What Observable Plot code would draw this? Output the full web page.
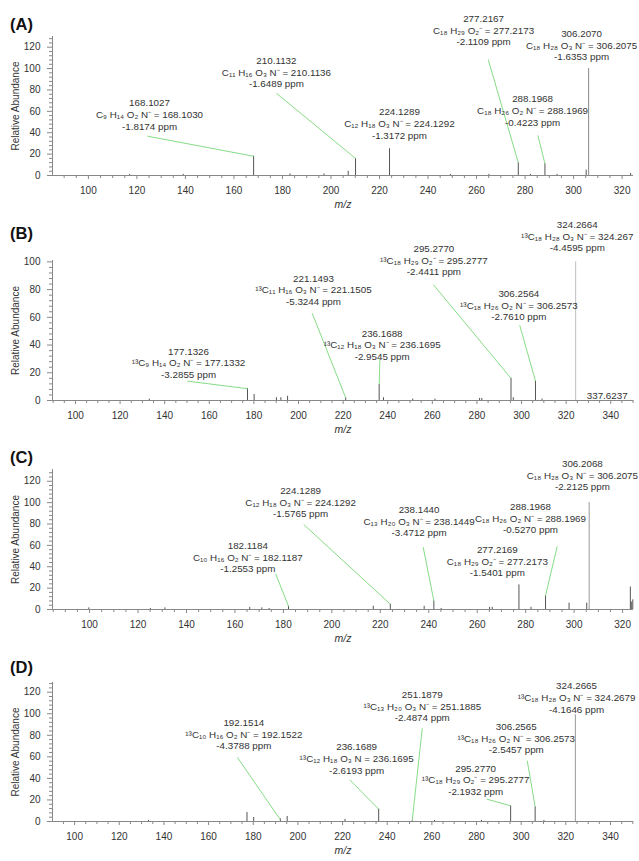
<!DOCTYPE html>
<html>
<head>
<meta charset="utf-8">
<script src="https://cdn.jsdelivr.net/npm/d3@7"></script>
<script src="https://cdn.jsdelivr.net/npm/@observablehq/plot@0.6"></script>
<style>
  html, body { margin: 0; padding: 0; background: #fff; }
  #root { position: relative; width: 639px; height: 861px; overflow: hidden; font-family: "Liberation Sans", Arial, sans-serif; }
  .panel { position: absolute; left: 0; width: 639px; }
  .panel svg { overflow: visible; display: block; }
  .plabel { position: absolute; left: 10px; font-weight: bold; font-size: 16.5px; color: #111; line-height: 1; }
</style>
</head>
<body>
<div id="root"></div>
<script>
// ---------------- Panel A ----------------
const A_peakMz = [117.0, 139.1, 168.1027, 183.1, 197.1, 207.1, 210.1132, 224.1289, 249.2, 265.1, 277.2167, 282.2, 288.1968, 293.2, 305.2, 306.2070, 323.5];
const A_peakAb = [1, 1, 18, 1.5, 1.5, 4, 16, 25, 1, 1, 12, 1, 11, 1, 5, 100, 2];
const A_labelText = [
  "168.1027\nC₉ H₁₄ O₂ N⁻ = 168.1030\n-1.8174 ppm",
  "210.1132\nC₁₁ H₁₆ O₃ N⁻ = 210.1136\n-1.6489 ppm",
  "224.1289\nC₁₂ H₁₈ O₃ N⁻ = 224.1292\n-1.3172 ppm",
  "277.2167\nC₁₈ H₂₉ O₂⁻ = 277.2173\n-2.1109 ppm",
  "288.1968\nC₁₈ H₂₆ O₂ N⁻ = 288.1969\n-0.4223 ppm",
  "306.2070\nC₁₈ H₂₈ O₃ N⁻ = 306.2075\n-1.6353 ppm"
];
const A_labelMz = [125.2, 177.5, 228.2, 262.9, 283.1, 303.3];
const A_labelAb = [57.2, 96.6, 48.8, 136.0, 61.0, 121.9];
const A_leadFromMz = [124.3, 177.5, 264.8, 285.3];
const A_leadFromAb = [36.8, 76.9, 108.5, 37.5];
const A_leadToMz = [168.1027, 210.1132, 277.2167, 288.1968];
const A_leadToAb = [18, 16, 12, 11];
const A_basePeak = 306.2070;
const A_xTicks = [100, 120, 140, 160, 180, 200, 220, 240, 260, 280, 300, 320];
const A_yTicks = [0, 20, 40, 60, 80, 100, 120];

// ---------------- Panel B ----------------
const B_peakMz = [133.1, 177.1326, 180.1, 190.1, 192.1, 195.1, 221.1493, 236.1688, 238.1, 251.2, 261.2, 281.2, 282.2, 295.2770, 296.3, 306.2564, 309.2, 324.2664];
const B_peakAb = [1, 8.5, 4.3, 2, 2, 3, 2, 11.6, 2, 1, 1, 1.5, 1.5, 16, 2, 14, 1, 100];
const B_labelText = [
  "177.1326\n¹³C₉ H₁₄ O₂ N⁻ = 177.1332\n-3.2855 ppm",
  "221.1493\n¹³C₁₁ H₁₆ O₃ N⁻ = 221.1505\n-5.3244 ppm",
  "236.1688\n¹³C₁₂ H₁₈ O₃ N⁻ = 236.1695\n-2.9545 ppm",
  "295.2770\n¹³C₁₈ H₂₉ O₂⁻ = 295.2777\n-2.4411 ppm",
  "306.2564\n¹³C₁₈ H₂₆ O₂ N⁻ = 306.2573\n-2.7610 ppm",
  "324.2664\n¹³C₁₈ H₂₈ O₃ N⁻ = 324.267\n-4.4595 ppm",
  "337.6237"
];
const B_labelMz = [150.7, 206.7, 237.5, 260.7, 298.8, 325.0, 338.4];
const B_labelAb = [27.5, 79.9, 40.5, 101.2, 69.0, 118.6, 4.1];
const B_leadFromMz = [150.1, 206.1, 236.5, 260.4, 299.2];
const B_leadFromAb = [14.0, 63.1, 30.1, 83.7, 54.2];
const B_leadToMz = [177.1326, 221.1493, 236.1688, 295.2770, 306.2564];
const B_leadToAb = [8.5, 2, 11.6, 16, 14];
const B_basePeak = 324.2664;
const B_xTicks = [100, 120, 140, 160, 180, 200, 220, 240, 260, 280, 300, 320, 340];
const B_yTicks = [0, 20, 40, 60, 80, 100];

// ---------------- Panel C ----------------
const C_peakMz = [99.7, 125.1, 131.1, 166.1, 171.1, 174.1, 182.1184, 217.1, 224.1289, 238.1, 242.1, 245.1, 265.1, 266.2, 277.2169, 282.2, 288.1968, 297.9, 305.2, 306.2068, 323.2, 323.6, 324.2];
const C_peakAb = [1.5, 1, 1.5, 2, 1.5, 1, 3, 3, 5, 3, 8, 1, 2, 2, 23, 2, 13, 6, 6, 100, 21, 7, 9];
const C_labelText = [
  "182.1184\nC₁₀ H₁₆ O₂ N⁻ = 182.1187\n-1.2553 ppm",
  "224.1289\nC₁₂ H₁₈ O₃ N⁻ = 224.1292\n-1.5765 ppm",
  "238.1440\nC₁₃ H₂₀ O₃ N⁻ = 238.1449\n-3.4712 ppm",
  "277.2169\nC₁₈ H₂₉ O₂⁻ = 277.2173\n-1.5401 ppm",
  "288.1968\nC₁₈ H₂₆ O₂ N⁻ = 288.1969\n-0.5270 ppm",
  "306.2068\nC₁₈ H₂₈ O₃ N⁻ = 306.2075\n-2.2125 ppm"
];
const C_labelMz = [165.3, 187.1, 236.0, 268.3, 282.0, 303.4];
const C_labelAb = [48.9, 100.4, 82.6, 45.2, 85.4, 126.0];
const C_leadFromMz = [176.8, 188.4, 237.7, 293.0];
const C_leadFromAb = [33.4, 79.5, 58.3, 58.9];
const C_leadToMz = [182.1184, 224.1289, 242.1, 288.1968];
const C_leadToAb = [3, 5, 8, 13];
const C_basePeak = 306.2068;
const C_xTicks = [100, 120, 140, 160, 180, 200, 220, 240, 260, 280, 300, 320];
const C_yTicks = [0, 20, 40, 60, 80, 100, 120];

// ---------------- Panel D ----------------
const D_peakMz = [133.1, 177.2, 180.2, 192.1514, 195.2, 221.1, 236.1689, 251.1879, 261.2, 282.2, 295.2770, 306.2565, 310.2, 324.2665];
const D_peakAb = [1, 8.4, 3.7, 2.5, 4.7, 2, 11.5, 0.8, 1, 1, 14.6, 13.7, 1, 99];
const D_labelText = [
  "192.1514\n¹³C₁₀ H₁₆ O₂ N⁻ = 192.1522\n-4.3788 ppm",
  "236.1689\n¹³C₁₂ H₁₈ O₃ N = 236.1695\n-2.6193 ppm",
  "251.1879\n¹³C₁₃ H₂₀ O₃ N⁻ = 251.1885\n-2.4874 ppm",
  "295.2770\n¹³C₁₈ H₂₉ O₂⁻ = 295.2777\n-2.1932 ppm",
  "306.2565\n¹³C₁₈ H₂₆ O₂ N⁻ = 306.2573\n-2.5457 ppm",
  "324.2665\n¹³C₁₈ H₂₈ O₃ N⁻ = 324.2679\n-4.1646 ppm"
];
const D_labelMz = [175.8, 226.3, 255.7, 279.6, 297.8, 324.8];
const D_labelAb = [81.3, 58.6, 107.0, 38.8, 77.6, 115.3];
const D_leadFromMz = [172.9, 223.3, 255.7, 284.5, 302.7];
const D_leadFromAb = [59.5, 38.5, 86.5, 20.8, 56.5];
const D_leadToMz = [192.1514, 236.1689, 251.1879, 295.2770, 306.2565];
const D_leadToAb = [1.6, 11.5, 0.8, 14.6, 13.7];
const D_basePeak = 324.2665;
const D_xTicks = [100, 120, 140, 160, 180, 200, 220, 240, 260, 280, 300, 320, 340];
const D_yTicks = [0, 20, 40, 60, 80, 100, 120];

const FONT = "'Liberation Sans', Arial, sans-serif";

function panel(cfg) {
  const peaks = cfg.peakMz.map((m, i) => ({mz: m, ab: cfg.peakAb[i], base: m === cfg.basePeak}));
  const labels = cfg.labelText.map((t, i) => ({t, mz: cfg.labelMz[i], ab: cfg.labelAb[i]}));
  const leaders = cfg.leadFromMz.map((m, i) => ({x1: m, y1: cfg.leadFromAb[i], x2: cfg.leadToMz[i], y2: cfg.leadToAb[i]}));
  const [x0, x1] = cfg.xDomain;
  const [y0, y1] = cfg.yDomain;
  const xMinor = d3.range(Math.ceil(x0 / 5) * 5, x1, 5).filter(v => v % 20 !== 0);
  const yMinor = d3.range(0, y1, 4).filter(v => v % 20 !== 0);
  const svg = Plot.plot({
    width: 639,
    height: cfg.height,
    marginLeft: 52,
    marginRight: 6,
    marginTop: cfg.marginTop,
    marginBottom: cfg.marginBottom,
    x: {domain: cfg.xDomain, label: null},
    y: {domain: cfg.yDomain, label: null},
    style: {fontFamily: FONT, fontSize: "10px", color: "#333", background: "transparent", overflow: "visible"},
    marks: [
      // axis lines
      Plot.ruleY([0], {x1: x0 - 5 / cfg.kx, x2: x1, stroke: "#888"}),
      Plot.ruleX([x0], {y1: 0, y2: y1, stroke: "#888"}),
      // x ticks
      Plot.axisX(cfg.xTicks, {anchor: "bottom", tickSize: 4, tickPadding: 7, stroke: "#888", fill: "#333", fontSize: 10, label: null}),
      Plot.axisX(xMinor, {anchor: "bottom", tickSize: 3, stroke: "#888", fill: "none", label: null}),
      // y ticks
      Plot.axisY(cfg.yTicks, {anchor: "left", tickSize: 5, tickPadding: 7, stroke: "#888", fill: "#333", fontSize: 10, label: null}),
      Plot.axisY(yMinor, {anchor: "left", tickSize: 3, stroke: "#888", fill: "none", label: null}),
      // spectrum sticks
      Plot.ruleX(peaks, {x: "mz", y1: 0, y2: "ab", stroke: d => d.base ? cfg.baseColor : "#555", strokeWidth: 1}),
      // leader lines
      Plot.link(leaders, {x1: "x1", y1: "y1", x2: "x2", y2: "y2", stroke: "#86dc86", strokeWidth: 1}),
      // annotations
      Plot.text(labels, {x: "mz", y: "ab", text: "t", fontSize: 9.8, lineHeight: 1.18, lineAnchor: "middle", textAnchor: "middle", fill: "#333"}),
      // axis titles
      Plot.text(["Relative Abundance"], {frameAnchor: "left", textAnchor: "middle", rotate: -90, dx: -37, fontSize: 10, fill: "#333"}),
      Plot.text(["m/z"], {frameAnchor: "bottom", dy: 32, fontSize: 10.5, fontStyle: "italic", fill: "#333"})
    ]
  });
  const div = document.createElement("div");
  div.className = "panel";
  div.style.top = cfg.top + "px";
  div.style.height = cfg.height + "px";
  div.appendChild(svg);
  const lab = document.createElement("div");
  lab.className = "plabel";
  lab.style.top = cfg.labelTop + "px";
  lab.textContent = cfg.name;
  div.appendChild(lab);
  document.getElementById("root").appendChild(div);
}

panel({name: "(A)", top: 0, height: 215, marginTop: 36, marginBottom: 40, labelTop: 16,
  xDomain: [85.2, 324.7], yDomain: [0, 130], kx: 2.425, baseColor: "#8a8a8a",
  peakMz: A_peakMz, peakAb: A_peakAb, labelText: A_labelText, labelMz: A_labelMz, labelAb: A_labelAb,
  leadFromMz: A_leadFromMz, leadFromAb: A_leadFromAb, leadToMz: A_leadToMz, leadToAb: A_leadToAb,
  basePeak: A_basePeak, xTicks: A_xTicks, yTicks: A_yTicks});

panel({name: "(B)", top: 215, height: 215, marginTop: 45, marginBottom: 30, labelTop: 10,
  xDomain: [89.7, 350.2], yDomain: [0, 101], kx: 2.23, baseColor: "#bdbdbd",
  peakMz: B_peakMz, peakAb: B_peakAb, labelText: B_labelText, labelMz: B_labelMz, labelAb: B_labelAb,
  leadFromMz: B_leadFromMz, leadFromAb: B_leadFromAb, leadToMz: B_leadToMz, leadToAb: B_leadToAb,
  basePeak: B_basePeak, xTicks: B_xTicks, yTicks: B_yTicks});

panel({name: "(C)", top: 430, height: 215, marginTop: 39, marginBottom: 36, labelTop: 19,
  xDomain: [84.7, 324.5], yDomain: [0, 131], kx: 2.423, baseColor: "#999",
  peakMz: C_peakMz, peakAb: C_peakAb, labelText: C_labelText, labelMz: C_labelMz, labelAb: C_labelAb,
  leadFromMz: C_leadFromMz, leadFromAb: C_leadFromAb, leadToMz: C_leadToMz, leadToAb: C_leadToAb,
  basePeak: C_basePeak, xTicks: C_xTicks, yTicks: C_yTicks});

panel({name: "(D)", top: 645, height: 216, marginTop: 37, marginBottom: 40, labelTop: 14,
  xDomain: [90.1, 350.3], yDomain: [0, 129], kx: 2.233, baseColor: "#999",
  peakMz: D_peakMz, peakAb: D_peakAb, labelText: D_labelText, labelMz: D_labelMz, labelAb: D_labelAb,
  leadFromMz: D_leadFromMz, leadFromAb: D_leadFromAb, leadToMz: D_leadToMz, leadToAb: D_leadToAb,
  basePeak: D_basePeak, xTicks: D_xTicks, yTicks: D_yTicks});
</script>
</body>
</html>
